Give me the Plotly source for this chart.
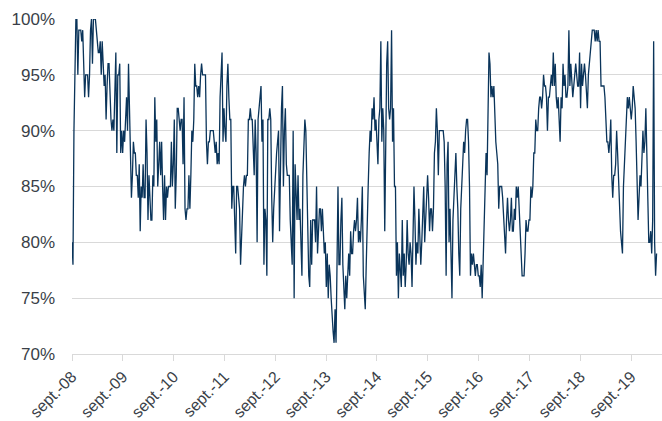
import pandas as pd
import plotly.graph_objects as go

# Weekly values (%), one list per year starting in September
sep08 = [80, 78, 90, 97, 100, 100, 95, 99, 99, 99, 98, 99, 96, 93, 95, 95, 95, 93, 95, 99,
         100, 96, 100, 100, 100, 99, 98, 97, 97, 98, 95, 98, 96, 94, 95, 91, 94, 96, 96, 92,
         91, 90, 91, 90, 94, 97, 88, 95, 95, 96, 88, 90]
sep09 = [88, 90, 89, 91, 93, 90, 96, 92, 86, 84, 86, 89, 88, 88, 86, 86, 84, 87, 81, 85,
         84, 87, 84, 84, 91, 88, 82, 86, 84, 82, 82, 86, 85, 93, 89, 91, 85, 87, 89, 86,
         89, 85, 82, 86, 82, 85, 84, 85, 85, 85, 89, 85]
sep10 = [87, 91, 83, 86, 92, 92, 91, 90, 91, 91, 87, 93, 83, 82, 83, 83, 86, 83, 86, 90,
         89, 91, 96, 94, 94, 93, 94, 93, 95, 96, 95, 95, 95, 95, 89, 87, 89, 89, 90, 90,
         90, 90, 89, 88, 89, 87, 88, 87, 93, 95, 97, 89]
sep11 = [92, 90, 89, 94, 96, 93, 91, 91, 83, 85, 85, 82, 79, 85, 85, 84, 83, 78, 81, 83,
         85, 86, 85, 86, 86, 91, 91, 92, 91, 91, 87, 86, 91, 88, 80, 91, 92, 93, 94, 89,
         91, 78, 83, 82, 77, 91, 91, 92, 91, 84, 80, 83]
sep12 = [85, 87, 88, 89, 90, 81, 87, 92, 94, 85, 90, 92, 87, 86, 86, 86, 82, 80, 78, 90,
         75, 87, 83, 82, 86, 82, 83, 80, 77, 86, 88, 91, 90, 85, 80, 77, 76, 82, 78, 82,
         82, 82, 80, 85, 79, 82, 83, 83, 81, 83, 80, 79]
sep13 = [80, 76, 79, 75, 78, 77, 75, 73, 72, 71, 74, 71, 77, 85, 78, 78, 82, 84, 78, 75,
         74, 77, 75, 77, 79, 77, 81, 79, 79, 81, 82, 81, 82, 84, 80, 81, 80, 82, 85, 77,
         75, 74, 78, 83, 85, 88, 90, 89, 92, 91, 93, 90]
sep14 = [91, 89, 87, 91, 92, 98, 89, 92, 90, 81, 90, 96, 98, 92, 91, 92, 99, 89, 92, 85,
         85, 77, 80, 75, 79, 77, 76, 82, 77, 79, 76, 78, 82, 79, 78, 80, 79, 76, 82, 85,
         82, 78, 80, 79, 83, 80, 78, 80, 84, 85, 80, 82]
sep15 = [84, 86, 84, 81, 83, 83, 81, 83, 88, 89, 92, 90, 86, 90, 90, 90, 90, 90, 89, 85,
         77, 87, 89, 80, 83, 80, 75, 82, 84, 85, 88, 85, 83, 79, 77, 83, 86, 87, 89, 88,
         90, 91, 91, 89, 85, 77, 79, 78, 79, 78, 77, 78]
sep16 = [78, 77, 77, 76, 78, 75, 79, 80, 86, 88, 86, 91, 97, 96, 93, 94, 93, 94, 91, 89,
         88, 87, 83, 85, 85, 85, 84, 82, 80, 79, 82, 84, 82, 81, 82, 84, 81, 81, 83, 82,
         85, 84, 85, 83, 80, 78, 77, 77, 77, 79, 82, 81]
sep17 = [81, 82, 82, 85, 84, 85, 88, 88, 91, 90, 90, 92, 93, 93, 92, 93, 95, 94, 94, 93,
         90, 93, 93, 94, 95, 94, 97, 94, 96, 93, 92, 93, 90, 89, 93, 92, 96, 94, 95, 93,
         93, 94, 99, 94, 96, 94, 93, 94, 95, 96, 95, 94]
sep18 = [94, 97, 92, 96, 94, 95, 96, 95, 93, 92, 95, 96, 97, 98, 99, 99, 99, 98, 99, 98,
         99, 98, 98, 94, 94, 94, 94, 93, 91, 89, 89, 88, 89, 91, 86, 84, 86, 86, 87, 90,
         88, 85, 83, 81, 80, 79, 85, 87, 90, 91, 93, 92]
sep19 = [93, 92, 91, 92, 94, 93, 92, 89, 86, 82, 84, 86, 85, 87, 90, 88, 89, 92, 87, 84,
         80, 80, 81, 79, 82, 98, 80, 77, 79]

values = sep08 + sep09 + sep10 + sep11 + sep12 + sep13 + sep14 + sep15 + sep16 + sep17 + sep18 + sep19
dates = pd.date_range("2008-09-01", periods=len(values), freq="7D")

tick_dates = ["2008-09-01", "2009-09-01", "2010-09-01", "2011-09-01", "2012-09-01", "2013-09-01",
              "2014-09-01", "2015-09-01", "2016-09-01", "2017-09-01", "2018-09-01", "2019-09-01"]
tick_labels = ["sept.-08", "sept.-09", "sept.-10", "sept.-11", "sept.-12", "sept.-13",
               "sept.-14", "sept.-15", "sept.-16", "sept.-17", "sept.-18", "sept.-19"]

fig = go.Figure(go.Scatter(x=dates, y=values, mode="lines",
                           line=dict(color="#0a345a", width=1.3)))

fig.update_layout(
    width=662, height=421,
    margin=dict(l=72, r=0, t=19, b=67, autoexpand=False),
    paper_bgcolor="white", plot_bgcolor="white",
    showlegend=False,
    font=dict(family="Liberation Sans, Arial, sans-serif", color="#3a3f48"),
)
fig.update_xaxes(
    range=["2008-09-01", "2020-04-10"],
    tickvals=tick_dates, ticktext=tick_labels, tickangle=-45,
    tickfont=dict(size=16), automargin=False,
    showgrid=False, showline=True, linecolor="#d9d9d9", linewidth=1,
    ticks="outside", ticklen=6, tickcolor="#d9d9d9",
)
fig.update_yaxes(
    range=[70, 100], dtick=5, ticksuffix="%",
    tickfont=dict(size=17), automargin=False,
    showgrid=True, gridcolor="#d9d9d9", gridwidth=1,
    zeroline=False, ticks="", ticklabelstandoff=16,
)

fig.write_html("out.html",
               config={"displayModeBar": False},
               post_script="document.body.style.margin='0';document.body.style.overflow='hidden';")
